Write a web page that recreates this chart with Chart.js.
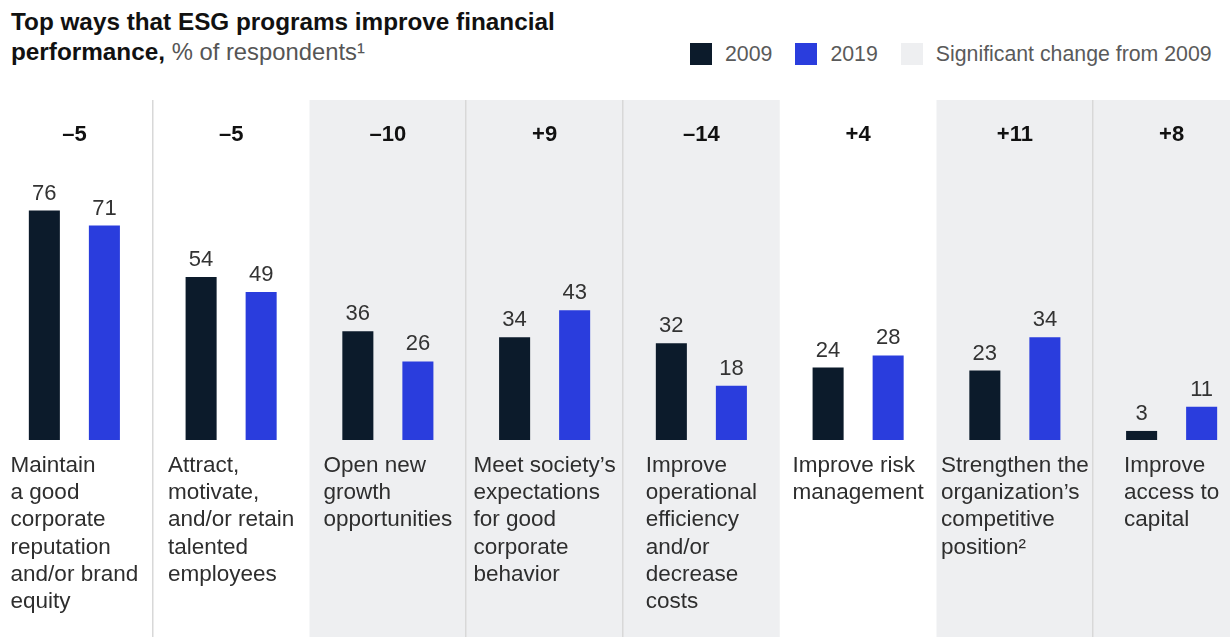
<!DOCTYPE html>
<html>
<head>
<meta charset="utf-8">
<script src="https://cdn.jsdelivr.net/npm/chart.js@4/dist/chart.umd.min.js"></script>
<style>
  html, body { margin: 0; padding: 0; width: 1230px; height: 637px; overflow: hidden; background: #fff;
    font-family: "Liberation Sans", Arial, sans-serif; }
  #chart { position: absolute; left: -4px; top: 0; }
  .title { position: absolute; left: 11px; top: 7px; font-size: 24.3px; line-height: 30px; color: #111; margin: 0;
    font-weight: 400; white-space: nowrap; }
  .title b { font-weight: 700; }
  .title .sub { color: #555; font-size: 23.8px; }
  .legend { position: absolute; left: 690px; top: 43px; display: flex; align-items: center; height: 22px;
    font-size: 21.3px; color: #5a5a5a; white-space: nowrap; }
  .legend .item { display: flex; align-items: center; margin-right: 23px; }
  .legend .sw { width: 22px; height: 22px; margin-right: 13px; flex: none; }
</style>
</head>
<body>
<h1 class="title"><b>Top ways that ESG programs improve financial<br>performance,</b> <span class="sub">% of respondents¹</span></h1>
<div class="legend" id="legend"></div>
<canvas id="chart" width="1254" height="637"></canvas>
<script>
// Categories, one line per entry as they wrap under each column
const categories = [
  ["Maintain", "a good", "corporate", "reputation", "and/or brand", "equity"],
  ["Attract,", "motivate,", "and/or retain", "talented", "employees"],
  ["Open new", "growth", "opportunities"],
  ["Meet society\u2019s", "expectations", "for good", "corporate", "behavior"],
  ["Improve", "operational", "efficiency", "and/or", "decrease", "costs"],
  ["Improve risk", "management"],
  ["Strengthen the", "organization\u2019s", "competitive", "position\u00b2"],
  ["Improve", "access to", "capital"]
];
const seriesNames = ["2009", "2019"];
const values2009 = [76, 54, 36, 34, 32, 24, 23, 3];
const values2019 = [71, 49, 26, 43, 18, 28, 34, 11];
const changeFrom2009 = [-5, -5, -10, 9, -14, 4, 11, 8];
const significant = [false, false, true, true, true, false, true, true];
const significantLabel = "Significant change from 2009";

const COLORS = { y2009: "#0c1b2b", y2019: "#2a3ddd", band: "#eeeff1", divider: "#d8d8d8" };
const FONT = '"Liberation Sans", Arial, sans-serif';

// HTML legend: the two series plus the shaded-column key
const legendEl = document.getElementById("legend");
[[seriesNames[0], COLORS.y2009], [seriesNames[1], COLORS.y2019], [significantLabel, COLORS.band]]
  .forEach(([text, color]) => {
    const item = document.createElement("div");
    item.className = "item";
    const sw = document.createElement("span");
    sw.className = "sw";
    sw.style.background = color;
    const label = document.createElement("span");
    label.textContent = text;
    item.appendChild(sw);
    item.appendChild(label);
    legendEl.appendChild(item);
  });

function fmtChange(v) {
  return (v > 0 ? "+" : "\u2013") + Math.abs(v);
}

// Shaded columns and dividers behind the bars; labels on top
const columnDecor = {
  id: "columnDecor",
  beforeDatasetsDraw(chart) {
    const { ctx, chartArea, scales: { x } } = chart;
    const step = x.getPixelForValue(1) - x.getPixelForValue(0);
    const bottom = chart.height;
    ctx.save();
    categories.forEach((_, i) => {
      const cx = x.getPixelForValue(i);
      if (significant[i]) {
        ctx.fillStyle = COLORS.band;
        ctx.fillRect(cx - step / 2, chartArea.top, step, bottom - chartArea.top);
      }
      if (i > 0 && significant[i] === significant[i - 1]) {
        ctx.fillStyle = COLORS.divider;
        ctx.fillRect(Math.round(cx - step / 2) - 1, chartArea.top, 1.5, bottom - chartArea.top);
      }
    });
    ctx.restore();
  },
  afterDatasetsDraw(chart) {
    const { ctx, chartArea, scales: { x } } = chart;
    ctx.save();
    // bar values
    ctx.font = "22px " + FONT;
    ctx.fillStyle = "#333";
    ctx.textAlign = "center";
    ctx.textBaseline = "alphabetic";
    chart.data.datasets.forEach((ds, d) => {
      chart.getDatasetMeta(d).data.forEach((bar, i) => {
        ctx.fillText(String(ds.data[i]), bar.x, bar.y - 11);
      });
    });
    // change from 2009, above each column
    ctx.font = "bold 22px " + FONT;
    ctx.fillStyle = "#111";
    changeFrom2009.forEach((v, i) => {
      ctx.fillText(fmtChange(v), x.getPixelForValue(i), 141);
    });
    // category labels: left-aligned block centred in its column
    ctx.font = "22.5px " + FONT;
    ctx.fillStyle = "#2e2e2e";
    ctx.textAlign = "left";
    categories.forEach((lines, i) => {
      const w = Math.max(...lines.map(l => ctx.measureText(l).width));
      const left = x.getPixelForValue(i) - w / 2;
      lines.forEach((l, k) => ctx.fillText(l, left, chartArea.bottom + 32 + k * 27.2));
    });
    ctx.restore();
  }
};

new Chart(document.getElementById("chart"), {
  type: "bar",
  data: {
    labels: categories,
    datasets: [
      { label: seriesNames[0], data: values2009, backgroundColor: COLORS.y2009 },
      { label: seriesNames[1], data: values2019, backgroundColor: COLORS.y2019 }
    ]
  },
  options: {
    responsive: false,
    devicePixelRatio: 1,
    animation: false,
    events: [],
    layout: { padding: { top: 100, bottom: 197, left: 0, right: 0 } },
    datasets: { bar: { categoryPercentage: 0.766, barPercentage: 0.517, borderWidth: 0 } },
    scales: {
      x: { display: false, offset: true, grid: { display: false } },
      y: { display: false, min: 0, max: 112.6 }
    },
    plugins: { legend: { display: false }, title: { display: false }, tooltip: { enabled: false } }
  },
  plugins: [columnDecor]
});
</script>
</body>
</html>
